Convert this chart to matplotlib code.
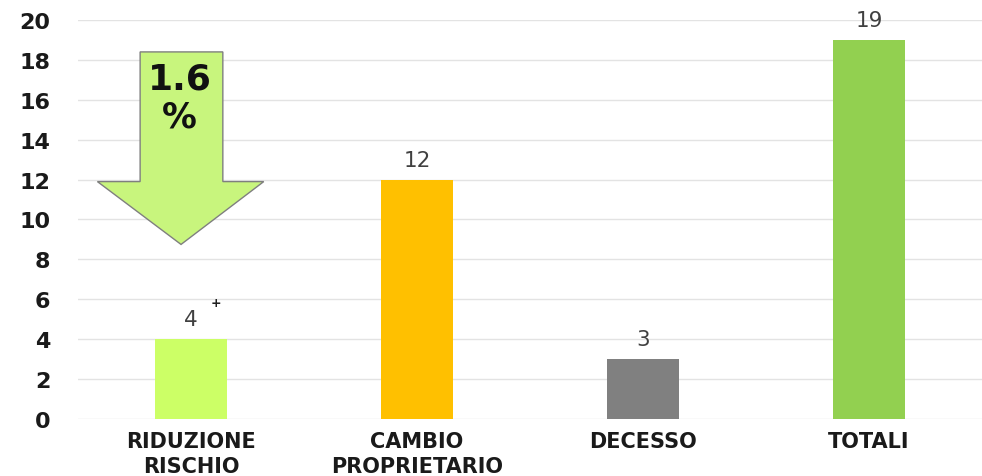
import matplotlib.pyplot as plt
from matplotlib.patches import Polygon

# dati
categorie = ["RIDUZIONE\nRISCHIO", "CAMBIO\nPROPRIETARIO", "DECESSO", "TOTALI"]
valori = [4, 12, 3, 19]
colori = ["#CCFF66", "#FFC000", "#808080", "#92D050"]
riduzione = ["1.6", "%"]

plt.rcParams["font.family"] = "DejaVu Sans"

fig = plt.figure(figsize=(9.82, 4.77), dpi=100)
ax = fig.add_axes([0.0794, 0.1195, 0.9206, 0.8365])

x = range(len(categorie))
bars = ax.bar(x, valori, width=0.32, color=colori, zorder=3)

for b, v in zip(bars, valori):
    ax.text(b.get_x() + b.get_width() / 2, v + 1.0, str(v),
            ha="center", va="center", fontsize=15.5, color="#404040")

# piccolo segno accanto al primo valore
ax.text(0.11, 5.85, "+", ha="center", va="center", fontsize=9,
        fontweight="bold", color="#202020")

ax.set_xlim(-0.5, 3.5)
ax.set_ylim(0, 20)
ax.set_yticks(range(0, 21, 2))
ax.set_xticks(list(x))
ax.set_xticklabels(categorie, fontsize=15, fontweight="bold", color="#1a1a1a",
                   linespacing=1.3)
for lab in ax.get_yticklabels():
    lab.set_fontweight("bold")
    lab.set_fontsize(16)
    lab.set_color("#1a1a1a")
ax.tick_params(axis="y", length=0, pad=20)
ax.tick_params(axis="x", length=0, pad=9)
ax.grid(axis="y", color="#E3E3E3", linewidth=1.0, zorder=0)
for s in ax.spines.values():
    s.set_visible(False)

# freccia verso il basso sopra la prima barra
freccia = Polygon([(-0.225, 18.4), (0.141, 18.4), (0.141, 11.9), (0.322, 11.9),
                   (-0.044, 8.75), (-0.414, 11.9), (-0.225, 11.9)],
                  closed=True, facecolor="#C8F57D", edgecolor="#7F7F7F",
                  linewidth=1.0, zorder=4)
ax.add_patch(freccia)
ax.text(-0.05, 17.05, riduzione[0], ha="center", va="center", fontsize=26,
        fontweight="bold", color="#111111", zorder=5)
ax.text(-0.05, 15.15, riduzione[1], ha="center", va="center", fontsize=25,
        fontweight="bold", color="#111111", zorder=5)

fig.savefig("out.png", dpi=100)
